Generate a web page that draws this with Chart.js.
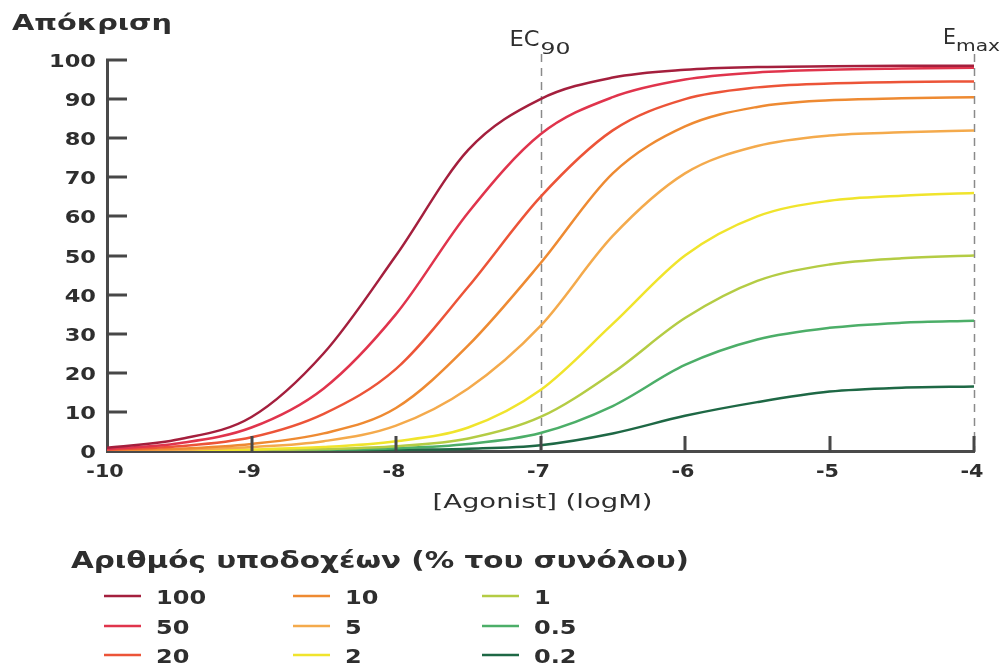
<!DOCTYPE html>
<html>
<head>
<meta charset="utf-8">
<script src="https://cdn.jsdelivr.net/npm/chart.js@4.4.0/dist/chart.umd.min.js"></script>
<style>
  html, body { margin: 0; padding: 0; background: #fff; }
  #wrap { width: 1002px; height: 666px; }
</style>
</head>
<body>
<div id="wrap"><canvas id="myChart" width="1002" height="666"></canvas></div>
<script>
// log concentration of agonist
const logDose = [-10, -9.5, -9, -8.5, -8, -7.5, -7, -6.5, -6, -5.5, -5, -4.5, -4];

// response (%) for each receptor fraction
const r100 = [0.8, 3, 8.7, 25, 50, 77, 90, 95.5, 97.5, 98.2, 98.4, 98.5, 98.5];
const r50 = [0.5, 2, 6, 16, 35, 61, 81, 90.5, 95, 96.8, 97.5, 97.8, 98];
const r20 = [0.3, 1.2, 3.5, 9.5, 21, 42, 65, 82, 90, 93, 94, 94.4, 94.5];
const r10 = [0.2, 0.6, 1.8, 4.5, 11, 27, 48, 71, 83, 88, 89.7, 90.2, 90.5];
const r5 = [0.1, 0.3, 1, 2.5, 6.5, 16, 32, 55, 71, 78, 80.7, 81.5, 82];
const r2 = [0, 0.1, 0.4, 1, 2.5, 6, 15.6, 32.5, 50, 60, 64, 65.3, 66];
const r1 = [0, 0.1, 0.2, 0.5, 1.2, 3.2, 8.7, 20, 34, 43.5, 47.7, 49.3, 50];
const r05 = [0, 0, 0.1, 0.3, 0.7, 1.8, 4.6, 11.5, 22, 28.5, 31.5, 32.8, 33.3];
const r02 = [0, 0, 0, 0.1, 0.3, 0.6, 1.5, 4.5, 9, 12.5, 15.2, 16.2, 16.5];

const seriesLabels = ["100", "50", "20", "10", "5", "2", "1", "0.5", "0.2"];
const seriesValues = [r100, r50, r20, r10, r5, r2, r1, r05, r02];
const seriesColors = ["#a41f3d", "#e0344c", "#ec5438", "#ee8a32", "#f4aa4c", "#f0e42c", "#b4cc44", "#4cae68", "#1e6845"];

const xTickLabels = ["-10", "-9", "-8", "-7", "-6", "-5", "-4"];
const yTickLabels = ["0", "10", "20", "30", "40", "50", "60", "70", "80", "90", "100"];

const yTitle = "Απόκριση";
const xTitle = "[Agonist] (logM)";
const legendTitle = "Αριθμός υποδοχέων (% του συνόλου)";
const refLines = [-7, -4];

const FONT = "'DejaVu Sans', 'Noto Sans', sans-serif";
const INK = "#2e2e2e";

// draw text squeezed/stretched horizontally by sx
function wideText(ctx, text, x, y, font, sx, align) {
    ctx.save();
    ctx.font = font;
    const w = ctx.measureText(text).width * sx;
    let left = x;
    if (align === "right") left = x - w;
    else if (align === "center") left = x - w / 2;
    ctx.translate(left, y);
    ctx.scale(sx, 1);
    ctx.textAlign = "left";
    ctx.fillText(text, 0, 0);
    ctx.restore();
}

// draw text fitted to a given width
function fitText(ctx, text, x, y, font, width, align) {
    ctx.font = font;
    const sx = width / ctx.measureText(text).width;
    wideText(ctx, text, x, y, font, sx, align);
}

const decorations = {
    id: "decorations",
    beforeDatasetsDraw(chart) {
        const ctx = chart.ctx;
        const xs = chart.scales.x;
        const area = chart.chartArea;
        ctx.save();
        ctx.strokeStyle = "#8a8a8a";
        ctx.lineWidth = 1.5;
        ctx.setLineDash([8, 6]);
        refLines.forEach(v => {
            const px = Math.round(xs.getPixelForValue(v)) + 0.5;
            ctx.beginPath();
            ctx.moveTo(px, area.top - 6);
            ctx.lineTo(px, area.bottom);
            ctx.stroke();
        });
        ctx.restore();
    },
    afterDraw(chart) {
        const ctx = chart.ctx;
        const xs = chart.scales.x;
        const ys = chart.scales.y;
        const area = chart.chartArea;
        ctx.save();

        // inward tick marks
        ctx.strokeStyle = "#474747";
        ctx.lineWidth = 3;
        ys.ticks.forEach(t => {
            if (t.value === 0) return;
            const py = Math.round(ys.getPixelForValue(t.value));
            ctx.beginPath();
            ctx.moveTo(area.left - 1, py);
            ctx.lineTo(area.left + 20, py);
            ctx.stroke();
        });
        xs.ticks.forEach(t => {
            if (t.value === -10) return;
            const px = Math.round(xs.getPixelForValue(t.value));
            ctx.beginPath();
            ctx.moveTo(px, area.bottom + 1);
            ctx.lineTo(px, area.bottom - 15);
            ctx.stroke();
        });

        ctx.fillStyle = INK;
        ctx.textBaseline = "alphabetic";

        // tick labels
        const tickFont = "bold 18px " + FONT;
        ys.ticks.forEach(t => {
            const py = ys.getPixelForValue(t.value);
            wideText(ctx, yTickLabels[Math.round(t.value / 10)], area.left - 11, py + 7, tickFont, 1.25, "right");
        });
        xs.ticks.forEach(t => {
            const px = xs.getPixelForValue(t.value);
            wideText(ctx, xTickLabels[Math.round(t.value + 10)], px - 2, 477, tickFont, 1.15, "center");
        });

        // y title
        fitText(ctx, yTitle, 12, 30, "bold 22px " + FONT, 160, "left");

        // reference line labels
        const ecx = xs.getPixelForValue(-7);
        fitText(ctx, "EC", ecx - 31, 46, "21px " + FONT, 30, "left");
        fitText(ctx, "90", ecx, 54, "15px " + FONT, 30, "left");
        const emx = xs.getPixelForValue(-4);
        fitText(ctx, "E", emx - 31, 44, "21px " + FONT, 13, "left");
        fitText(ctx, "max", emx - 18, 51, "15px " + FONT, 44, "left");

        // x title
        fitText(ctx, xTitle, (area.left + area.right) / 2 + 2, 508, "19px " + FONT, 220, "center");

        // legend
        fitText(ctx, legendTitle, 71, 568, "bold 23px " + FONT, 618, "left");
        const colX = [104, 293, 482];
        const rowY = [596, 626, 655];
        chart.data.datasets.forEach((ds, i) => {
            const cx = colX[Math.floor(i / 3)];
            const cy = rowY[i % 3];
            ctx.strokeStyle = ds.borderColor;
            ctx.lineWidth = 2.5;
            ctx.beginPath();
            ctx.moveTo(cx, cy);
            ctx.lineTo(cx + 37, cy);
            ctx.stroke();
            ctx.fillStyle = INK;
            wideText(ctx, ds.label, cx + 52, cy + 8, "bold 20px " + FONT, 1.2, "left");
        });
        ctx.restore();
    }
};

const ctx = document.getElementById("myChart").getContext("2d");
const chart = new Chart(ctx, {
    type: "line",
    data: {
        datasets: seriesValues.map((vals, i) => ({
            label: seriesLabels[i],
            data: logDose.map((x, j) => ({ x: x, y: vals[j] })),
            borderColor: seriesColors[i],
            borderWidth: 2.5,
            fill: false,
            pointRadius: 0,
            cubicInterpolationMode: "monotone"
        }))
    },
    options: {
        responsive: false,
        animation: false,
        devicePixelRatio: 1,
        layout: { padding: { top: 60, right: 28, bottom: 0, left: 0 } },
        plugins: {
            legend: { display: false },
            tooltip: { enabled: false },
            title: { display: false }
        },
        scales: {
            x: {
                type: "linear",
                min: -10,
                max: -4,
                afterFit: s => { s.height = 215; },
                grid: { display: false, drawTicks: false },
                border: { display: true, color: "#4a4a4a", width: 3 },
                ticks: { stepSize: 1, display: false }
            },
            y: {
                min: 0,
                max: 100,
                afterFit: s => { s.width = 107; },
                grid: { display: false, drawTicks: false },
                border: { display: true, color: "#4a4a4a", width: 3 },
                ticks: { stepSize: 10, display: false }
            }
        }
    },
    plugins: [decorations]
});
</script>
</body>
</html>
